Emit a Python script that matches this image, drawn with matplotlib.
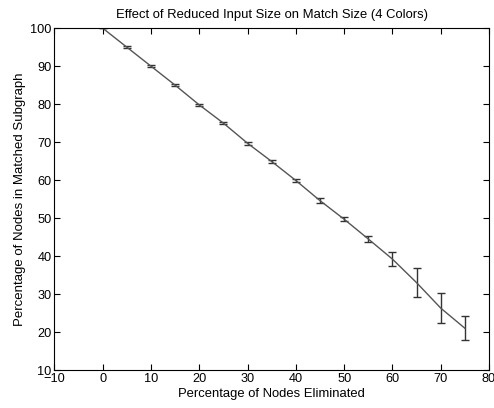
import matplotlib
matplotlib.use("Agg")
import matplotlib.pyplot as plt

pct_eliminated = [0, 5, 10, 15, 20, 25, 30, 35, 40, 45, 50, 55, 60, 65, 70, 75]
pct_matched = [100, 95, 90, 85, 79.8, 75, 69.7, 64.9, 59.9, 54.6, 49.7, 44.5, 39.2, 33.0, 26.3, 21.0]
err = [0, 0.2, 0.2, 0.3, 0.3, 0.3, 0.4, 0.4, 0.4, 0.6, 0.5, 0.7, 1.8, 3.8, 4.0, 3.2]

xticks = list(range(-10, 81, 10))
yticks = list(range(10, 101, 10))

plt.rcParams['font.family'] = ['Liberation Sans', 'DejaVu Sans']
plt.rcParams['font.size'] = 9

fig = plt.figure(figsize=(4.94, 4.08), dpi=100)
ax = fig.add_axes([0.110, 0.093, 0.880, 0.838])
ax.errorbar(pct_eliminated, pct_matched, yerr=err, color='#555555', linewidth=1.0,
            ecolor='#333333', elinewidth=1.0, capsize=3, capthick=1.0)
ax.set_xlim(-10, 80)
ax.set_ylim(10, 100)
ax.set_xticks(xticks)
ax.set_yticks(yticks)
ax.tick_params(direction='in', top=True, right=True, length=4, width=0.8, labelsize=9.2, pad=2)
for s in ax.spines.values():
    s.set_linewidth(0.8)
ax.set_xlabel('Percentage of Nodes Eliminated', fontsize=9.4, labelpad=2)
ax.set_ylabel('Percentage of Nodes in Matched Subgraph', fontsize=9.5, labelpad=3)
ax.set_title('Effect of Reduced Input Size on Match Size (4 Colors)', fontsize=9.4, pad=7)
fig.savefig('out.png', dpi=100)
